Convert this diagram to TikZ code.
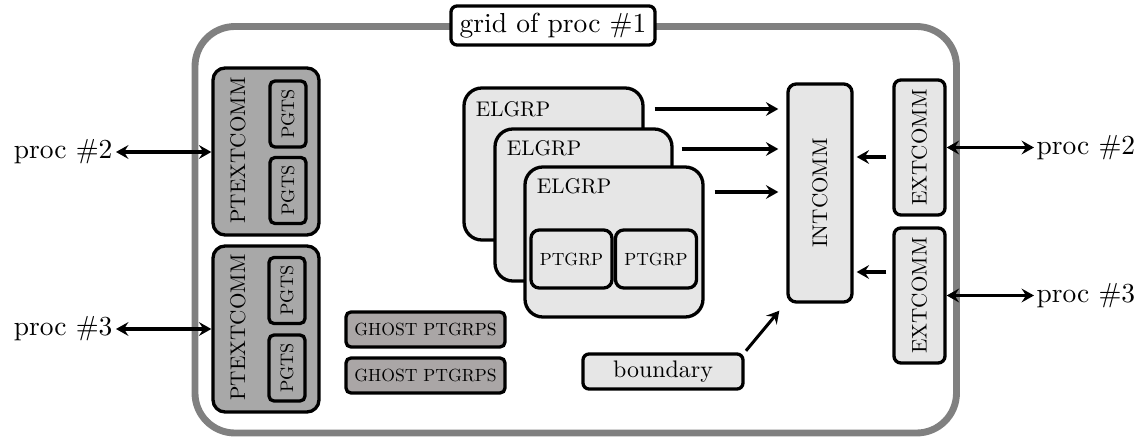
\documentclass[tikz,border=0pt]{standalone}
\usepackage{fontspec}
\setmainfont{lmroman10-regular.otf}
\usetikzlibrary{arrows.meta,calc}
\newcommand\pxu[1]{#1*0.3636pt}
\definecolor{lightbox}{HTML}{E6E6E6}
\definecolor{darkbox}{HTML}{A8A8A8}
\definecolor{ghostbox}{HTML}{AAA6A6}
\definecolor{outerline}{HTML}{808080}
\begin{document}
\begin{tikzpicture}[x=0.3636pt,y=-0.3636pt,
  box/.style={draw=black,line width=1.2pt,inner sep=0pt,rectangle},
  lbox/.style={box,fill=lightbox},
  dbox/.style={box,fill=darkbox},
  capsA/.style={font=\fontsize{7.7}{9}\selectfont},
  capsB/.style={font=\fontsize{6.4}{8}\selectfont},
  capsC/.style={font=\fontsize{6.6}{8}\selectfont},
  arr/.style={line width=1.1pt,-{Stealth[length=4.5pt,width=5pt,inset=1.6pt]}},
  dbl/.style={line width=1.1pt,{Stealth[length=4.5pt,width=5pt,inset=1.6pt]}-{Stealth[length=4.5pt,width=5pt,inset=1.6pt]}}
]
\useasboundingbox (0,0) rectangle (1148,437);

% outer frame
\draw[outerline,line width=2.5pt,rounded corners=14.5pt] (195,26.5) rectangle (956.5,433);
\node[box,fill=white,rounded corners=2.2pt,minimum width=\pxu{204},minimum height=\pxu{39},font=\fontsize{10}{12}\selectfont] (title) at (553,25.5) {grid of proc \#1};

% PTEXTCOMM blocks
\node[dbox,rounded corners=4.4pt,minimum width=\pxu{106},minimum height=\pxu{167}] (ptx1) at (266,151.5) {};
\node[capsA,rotate=90] (ptx1t) at (238,150.5) {PTEXTCOMM};
\node[dbox,rounded corners=1.8pt,minimum width=\pxu{36},minimum height=\pxu{66},capsC] (pg1a) at (288,114) {\rotatebox{90}{PGTS}};
\node[dbox,rounded corners=1.8pt,minimum width=\pxu{36},minimum height=\pxu{66},capsC] (pg1b) at (288,190.5) {\rotatebox{90}{PGTS}};

\node[dbox,rounded corners=4.4pt,minimum width=\pxu{106},minimum height=\pxu{166}] (ptx2) at (266,329) {};
\node[capsA,rotate=90] (ptx2t) at (238,327.5) {PTEXTCOMM};
\node[dbox,rounded corners=1.8pt,minimum width=\pxu{36},minimum height=\pxu{66},capsC] (pg2a) at (287,290.5) {\rotatebox{90}{PGTS}};
\node[dbox,rounded corners=1.8pt,minimum width=\pxu{36},minimum height=\pxu{66},capsC] (pg2b) at (287,368) {\rotatebox{90}{PGTS}};

% ghost
\node[box,fill=ghostbox,rounded corners=1.8pt,minimum width=\pxu{159},minimum height=\pxu{35},capsB] (gh1) at (425.5,329.5) {GHOST PTGRPS};
\node[box,fill=ghostbox,rounded corners=1.8pt,minimum width=\pxu{159},minimum height=\pxu{35},capsB] (gh2) at (425.5,375.5) {GHOST PTGRPS};

% ELGRP stack
\node[lbox,rounded corners=6.5pt,minimum width=\pxu{179},minimum height=\pxu{152}] (el1) at (553.5,164) {};
\node[capsA,anchor=west,inner sep=0pt] (el1t) at ($(el1.north west)+(13,23)$) {ELGRP};
\node[lbox,rounded corners=6.5pt,minimum width=\pxu{177},minimum height=\pxu{152}] (el2) at (583.5,205) {};
\node[capsA,anchor=west,inner sep=0pt] (el2t) at ($(el2.north west)+(13,21)$) {ELGRP};
\node[lbox,rounded corners=6.5pt,minimum width=\pxu{178},minimum height=\pxu{150}] (el3) at (614,242) {};
\node[capsA,anchor=west,inner sep=0pt] (el3t) at ($(el3.north west)+(13,21)$) {ELGRP};
\node[lbox,rounded corners=3pt,minimum width=\pxu{81},minimum height=\pxu{58},capsB] (pa) at (571.5,259) {PTGRP};
\node[lbox,rounded corners=3pt,minimum width=\pxu{81},minimum height=\pxu{58},capsB] (pb) at (656,259) {PTGRP};

% INTCOMM / EXTCOMM
\node[lbox,rounded corners=3pt,minimum width=\pxu{64},minimum height=\pxu{218},capsA] (int) at (820,193) {\rotatebox{90}{INTCOMM}};
\node[lbox,rounded corners=2.5pt,minimum width=\pxu{51},minimum height=\pxu{135},capsA] (ext1) at (919.5,147.5) {\rotatebox{90}{EXTCOMM}};
\node[lbox,rounded corners=2.5pt,minimum width=\pxu{51},minimum height=\pxu{135},capsA] (ext2) at (919.5,295.5) {\rotatebox{90}{EXTCOMM}};

% boundary
\node[lbox,rounded corners=2.2pt,minimum width=\pxu{160},minimum height=\pxu{35},font=\fontsize{8.7}{10}\selectfont] (bnd) at (663,371.5) {boundary};

% proc labels
\node[anchor=east,inner sep=0pt,font=\fontsize{10}{12}\selectfont] (pl2) at (113,152) {proc \#2};
\node[anchor=east,inner sep=0pt,font=\fontsize{10}{12}\selectfont] (pl3) at (113,329) {proc \#3};
\node[anchor=west,inner sep=0pt,font=\fontsize{10}{12}\selectfont] (pr2) at (1036,147.5) {proc \#2};
\node[anchor=west,inner sep=0pt,font=\fontsize{10}{12}\selectfont] (pr3) at (1036,295.5) {proc \#3};

% arrows
\draw[arr,shorten <=\pxu{10},shorten >=\pxu{8}] (el1.east |- 0,109) -- (int.west |- 0,109);
\draw[arr,shorten <=\pxu{8},shorten >=\pxu{8}] (el2.east |- 0,149) -- (int.west |- 0,149);
\draw[arr,shorten <=\pxu{10},shorten >=\pxu{8}] (el3.east |- 0,192) -- (int.west |- 0,192);
\draw[arr,shorten <=\pxu{6},shorten >=\pxu{3}] (ext1.west |- 0,157) -- (int.east |- 0,157);
\draw[arr,shorten <=\pxu{6},shorten >=\pxu{3}] (ext2.west |- 0,272) -- (int.east |- 0,272);
\draw[arr,shorten <=\pxu{2}] (bnd.north east) -- ($(int.south west)+(-7,7)$);
\draw[dbl,shorten <=\pxu{3}] (pl2.east) -- (ptx1.west |- pl2.east);
\draw[dbl,shorten <=\pxu{3}] (pl3.east) -- (ptx2.west |- pl3.east);
\draw[dbl,shorten >=\pxu{2}] (ext1.east) -- (pr2.west);
\draw[dbl,shorten >=\pxu{2}] (ext2.east) -- (pr3.west);
\end{tikzpicture}
\end{document}
